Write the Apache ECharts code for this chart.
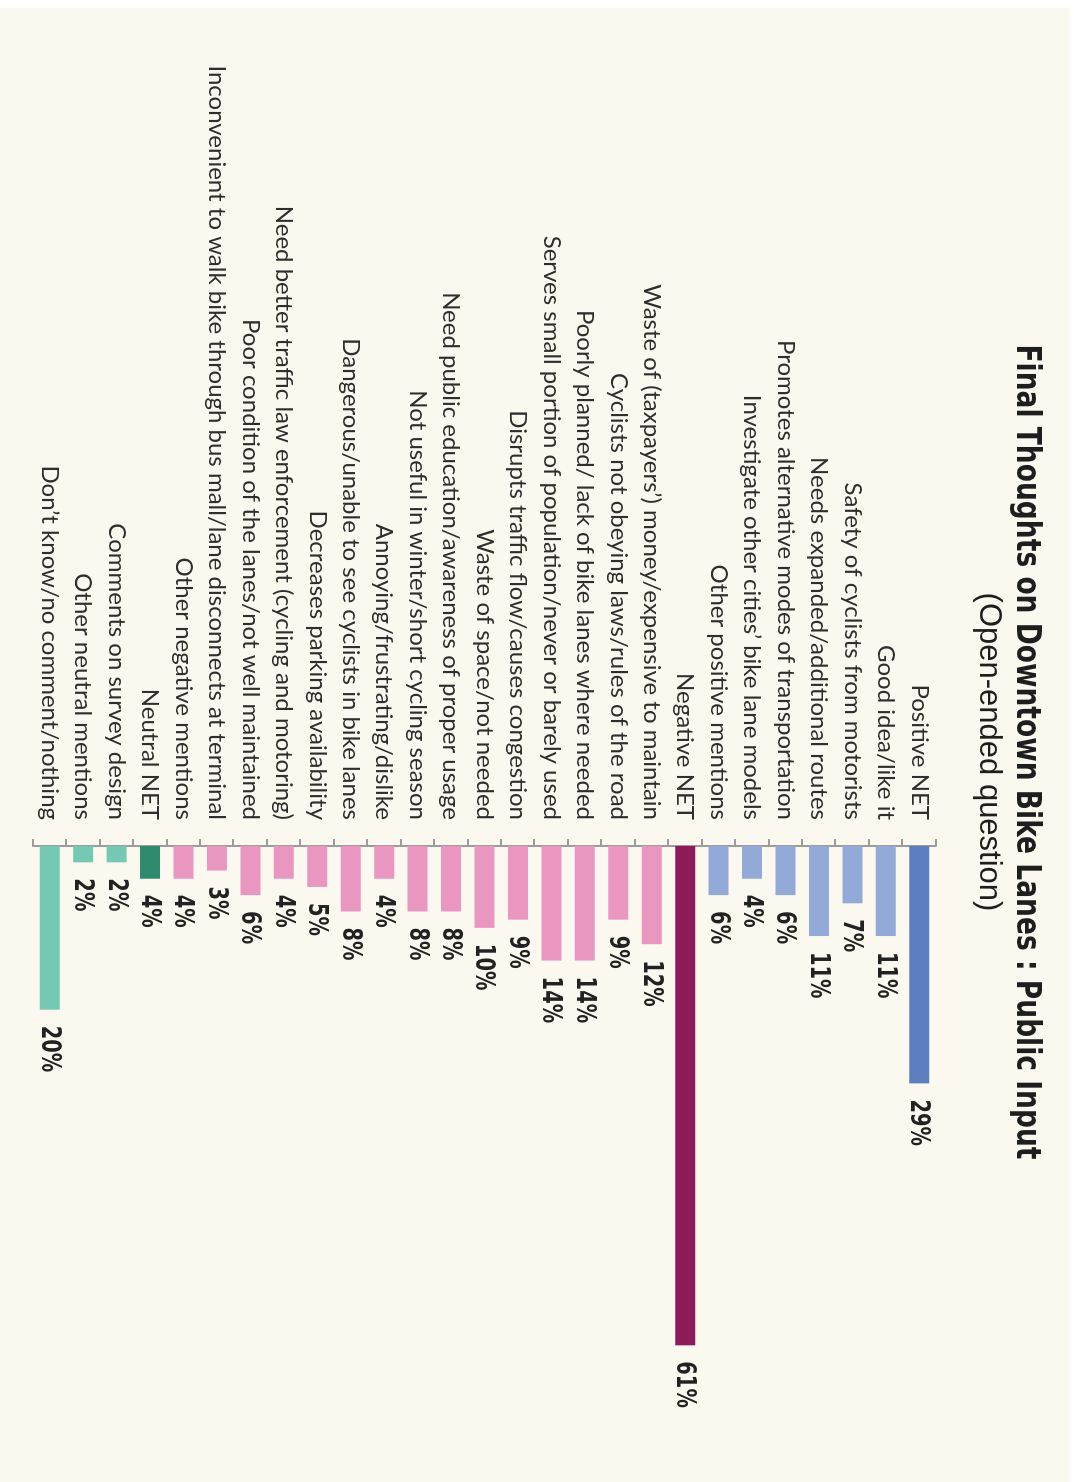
<!DOCTYPE html>
<html>
<head>
<meta charset="utf-8">
<script src="https://cdn.jsdelivr.net/npm/echarts@6/dist/echarts.min.js"></script>
<style>
  html, body { margin: 0; padding: 0; background: #ffffff; overflow: hidden; }
  /* The chart is laid out as a horizontal bar chart and then turned a quarter turn clockwise. */
  #stage {
    position: absolute; left: 0; top: 0;
    width: 1482px; height: 1074px;
    transform-origin: 0 0;
    transform: translateX(1074px) rotate(90deg);
    background: #ffffff;
  }
  #chart {
    position: absolute; left: 8px; top: 4px;
    width: 1474px; height: 1070px;
    background: #FBF9EF;
  }
</style>
</head>
<body>
<div id="stage"><div id="chart"></div></div>
<script>
// Survey responses, in the order they are listed
const categories = [
  'Positive NET',
  'Good idea/like it',
  'Safety of cyclists from motorists',
  'Needs expanded/additional routes',
  'Promotes alternative modes of transportation',
  'Investigate other cities\u2019 bike lane models',
  'Other positive mentions',
  'Negative NET',
  'Waste of (taxpayers\u2019) money/expensive to maintain',
  'Cyclists not obeying laws/rules of the road',
  'Poorly planned/ lack of bike lanes where needed',
  'Serves small portion of population/never or barely used',
  'Disrupts traffic flow/causes congestion',
  'Waste of space/not needed',
  'Need public education/awareness of proper usage',
  'Not useful in winter/short cycling season',
  'Annoying/frustrating/dislike',
  'Dangerous/unable to see cyclists in bike lanes',
  'Decreases parking availability',
  'Need better traffic law enforcement (cycling and motoring)',
  'Poor condition of the lanes/not well maintained',
  'Inconvenient to walk bike through bus mall/lane disconnects at terminal',
  'Other negative mentions',
  'Neutral NET',
  'Comments on survey design',
  'Other neutral mentions',
  'Don\u2019t know/no comment/nothing'
];

// Share of respondents (%)
const shares = [29, 11, 7, 11, 6, 4, 6, 61, 12, 9, 14, 14, 9, 10, 8, 8, 4, 8, 5, 4, 6, 3, 4, 4, 2, 2, 20];

// Sentiment group of each response
const groups = [
  'posNet', 'pos', 'pos', 'pos', 'pos', 'pos', 'pos',
  'negNet', 'neg', 'neg', 'neg', 'neg', 'neg', 'neg', 'neg', 'neg', 'neg', 'neg', 'neg', 'neg', 'neg', 'neg', 'neg',
  'neuNet', 'neu', 'neu', 'neu'
];

const groupColors = {
  posNet: '#5D7EBF', pos: '#93A9D8',
  negNet: '#8D1B5A', neg: '#E996C1',
  neuNet: '#2F8A6E', neu: '#75C8B2'
};

const titleText = 'Final Thoughts on Downtown Bike Lanes : Public Input';
const subtitleText = '(Open-ended question)';

const chart = echarts.init(document.getElementById('chart'), null, { renderer: 'canvas' });

const barData = shares.map((v, i) => ({ value: v, itemStyle: { color: groupColors[groups[i]] } }));
const labelData = shares.map((v, i) => [v, i]);

chart.setOption({
  backgroundColor: 'transparent',
  animation: false,
  graphic: [
    {
      type: 'text', x: 744, y: 44, scaleX: 0.78,
      style: {
        text: titleText, align: 'center', verticalAlign: 'middle',
        font: 'bold 34px "DejaVu Sans"', fill: '#1e1e1e'
      }
    },
    {
      type: 'text', x: 744, y: 81,
      style: {
        text: subtitleText, align: 'center', verticalAlign: 'middle',
        font: '31px "Liberation Sans"', fill: '#1e1e1e'
      }
    }
  ],
  grid: { left: 838, width: 573, top: 134, height: 903, containLabel: false },
  xAxis: {
    type: 'value', min: 0, max: 70,
    show: false
  },
  yAxis: {
    type: 'category', inverse: true, data: categories,
    axisLine: { show: true, lineStyle: { color: '#9c9c9c', width: 2 } },
    axisTick: { show: true, length: 7, lineStyle: { color: '#9c9c9c', width: 2 } },
    axisLabel: {
      margin: 26, color: '#2e2e2e', fontSize: 24, fontFamily: 'Lato'
    }
  },
  series: [
    {
      type: 'bar', data: barData, barWidth: 20, z: 2
    },
    {
      // value labels just past each bar end, in a tall narrow bold face
      type: 'custom', data: labelData, z: 3,
      renderItem: function (params, api) {
        const pt = api.coord([api.value(0), api.value(1)]);
        return {
          type: 'text', x: pt[0] + 16, y: pt[1] + 1, scaleX: 0.72,
          style: {
            text: api.value(0) + '%', align: 'left', verticalAlign: 'middle',
            font: 'bold 27px "DejaVu Sans"', fill: '#222222'
          }
        };
      }
    }
  ]
});
</script>
</body>
</html>
